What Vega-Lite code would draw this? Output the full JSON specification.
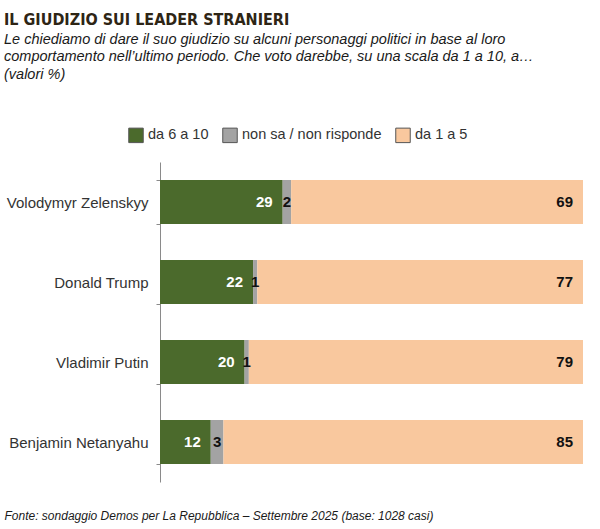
{
  "$schema": "https://vega.github.io/schema/vega-lite/v6.json",
  "autosize": "none",
  "width": 423,
  "height": 320,
  "padding": {"left": 160, "top": 162, "right": 17, "bottom": 47},
  "background": "white",
  "config": {
    "view": {"stroke": null},
    "font": "Liberation Sans"
  },
  "title": {
    "text": "IL GIUDIZIO SUI LEADER STRANIERI",
    "subtitle": [
      "Le chiediamo di dare il suo giudizio su alcuni personaggi politici in base al loro",
      "comportamento nell’ultimo periodo. Che voto darebbe, su una scala da 1 a 10, a…",
      "(valori %)"
    ],
    "anchor": "start",
    "frame": "group",
    "dx": -156,
    "font": "DejaVu Sans Condensed, Roboto, sans-serif",
    "fontSize": 16,
    "fontWeight": "bold",
    "color": "#2e2515",
    "subtitleFont": "Liberation Sans",
    "subtitleFontSize": 14.5,
    "subtitleFontStyle": "italic",
    "subtitleColor": "#1a1a1a",
    "subtitleLineHeight": 17.5,
    "subtitlePadding": 5,
    "offset": 46
  },
  "data": {
    "values": [
      {"leader": "Volodymyr Zelenskyy", "giudizio": "da 6 a 10", "ord": 1, "value": 29},
      {"leader": "Volodymyr Zelenskyy", "giudizio": "non sa / non risponde", "ord": 2, "value": 2},
      {"leader": "Volodymyr Zelenskyy", "giudizio": "da 1 a 5", "ord": 3, "value": 69},
      {"leader": "Donald Trump", "giudizio": "da 6 a 10", "ord": 1, "value": 22},
      {"leader": "Donald Trump", "giudizio": "non sa / non risponde", "ord": 2, "value": 1},
      {"leader": "Donald Trump", "giudizio": "da 1 a 5", "ord": 3, "value": 77},
      {"leader": "Vladimir Putin", "giudizio": "da 6 a 10", "ord": 1, "value": 20},
      {"leader": "Vladimir Putin", "giudizio": "non sa / non risponde", "ord": 2, "value": 1},
      {"leader": "Vladimir Putin", "giudizio": "da 1 a 5", "ord": 3, "value": 79},
      {"leader": "Benjamin Netanyahu", "giudizio": "da 6 a 10", "ord": 1, "value": 12},
      {"leader": "Benjamin Netanyahu", "giudizio": "non sa / non risponde", "ord": 2, "value": 3},
      {"leader": "Benjamin Netanyahu", "giudizio": "da 1 a 5", "ord": 3, "value": 85}
    ]
  },
  "transform": [
    {"stack": "value", "groupby": ["leader"], "sort": [{"field": "ord"}], "as": ["x0", "x1"]},
    {"calculate": "(datum.x0 + datum.x1) / 2", "as": "xm"}
  ],
  "encoding": {
    "y": {
      "field": "leader",
      "type": "nominal",
      "sort": ["Volodymyr Zelenskyy", "Donald Trump", "Vladimir Putin", "Benjamin Netanyahu"],
      "scale": {"paddingInner": 0.45, "paddingOuter": 0.225},
      "axis": {
        "title": null,
        "tickBand": "extent",
        "domainColor": "#8a8a8a",
        "tickColor": "#8a8a8a",
        "tickSize": 4,
        "labelPadding": 8,
        "labelFontSize": 15,
        "labelColor": "#333333"
      }
    }
  },
  "layer": [
    {
      "mark": {"type": "bar"},
      "encoding": {
        "x": {
          "field": "x0",
          "type": "quantitative",
          "scale": {"domain": [0, 100]},
          "axis": {
            "title": "Fonte: sondaggio Demos per La Repubblica – Settembre 2025 (base: 1028 casi)",
            "labels": false,
            "ticks": false,
            "domain": false,
            "grid": false,
            "titleX": -156,
            "titleY": 37,
            "titleAlign": "left",
            "titleBaseline": "alphabetic",
            "titleFontSize": 12,
            "titleFontStyle": "italic",
            "titleFontWeight": "normal",
            "titleColor": "#1a1a1a"
          }
        },
        "x2": {"field": "x1"},
        "color": {
          "field": "giudizio",
          "type": "nominal",
          "scale": {
            "domain": ["da 6 a 10", "non sa / non risponde", "da 1 a 5"],
            "range": ["#4b6a2c", "#a3a3a3", "#f9c89e"]
          },
          "legend": {
            "title": null,
            "orient": "none",
            "direction": "horizontal",
            "legendX": -32,
            "legendY": -35,
            "symbolType": "square",
            "symbolSize": 210,
            "symbolStrokeColor": "#555555",
            "symbolStrokeWidth": 1,
            "labelFontSize": 14.5,
            "labelColor": "#333333",
            "labelOffset": 4,
            "columnPadding": 11
          }
        }
      }
    },
    {
      "transform": [{"filter": "datum.ord == 1"}],
      "mark": {"type": "text", "align": "right", "dx": -10, "fontSize": 15, "fontWeight": "bold", "color": "white"},
      "encoding": {
        "x": {"field": "x1", "type": "quantitative"},
        "text": {"field": "value", "type": "quantitative"}
      }
    },
    {
      "transform": [{"filter": "datum.ord == 2"}],
      "mark": {"type": "text", "align": "center", "fontSize": 15, "fontWeight": "bold", "color": "#111111"},
      "encoding": {
        "x": {"field": "xm", "type": "quantitative"},
        "text": {"field": "value", "type": "quantitative"}
      }
    },
    {
      "transform": [{"filter": "datum.ord == 3"}],
      "mark": {"type": "text", "align": "right", "dx": -10, "fontSize": 15, "fontWeight": "bold", "color": "#111111"},
      "encoding": {
        "x": {"field": "x1", "type": "quantitative"},
        "text": {"field": "value", "type": "quantitative"}
      }
    }
  ]
}
